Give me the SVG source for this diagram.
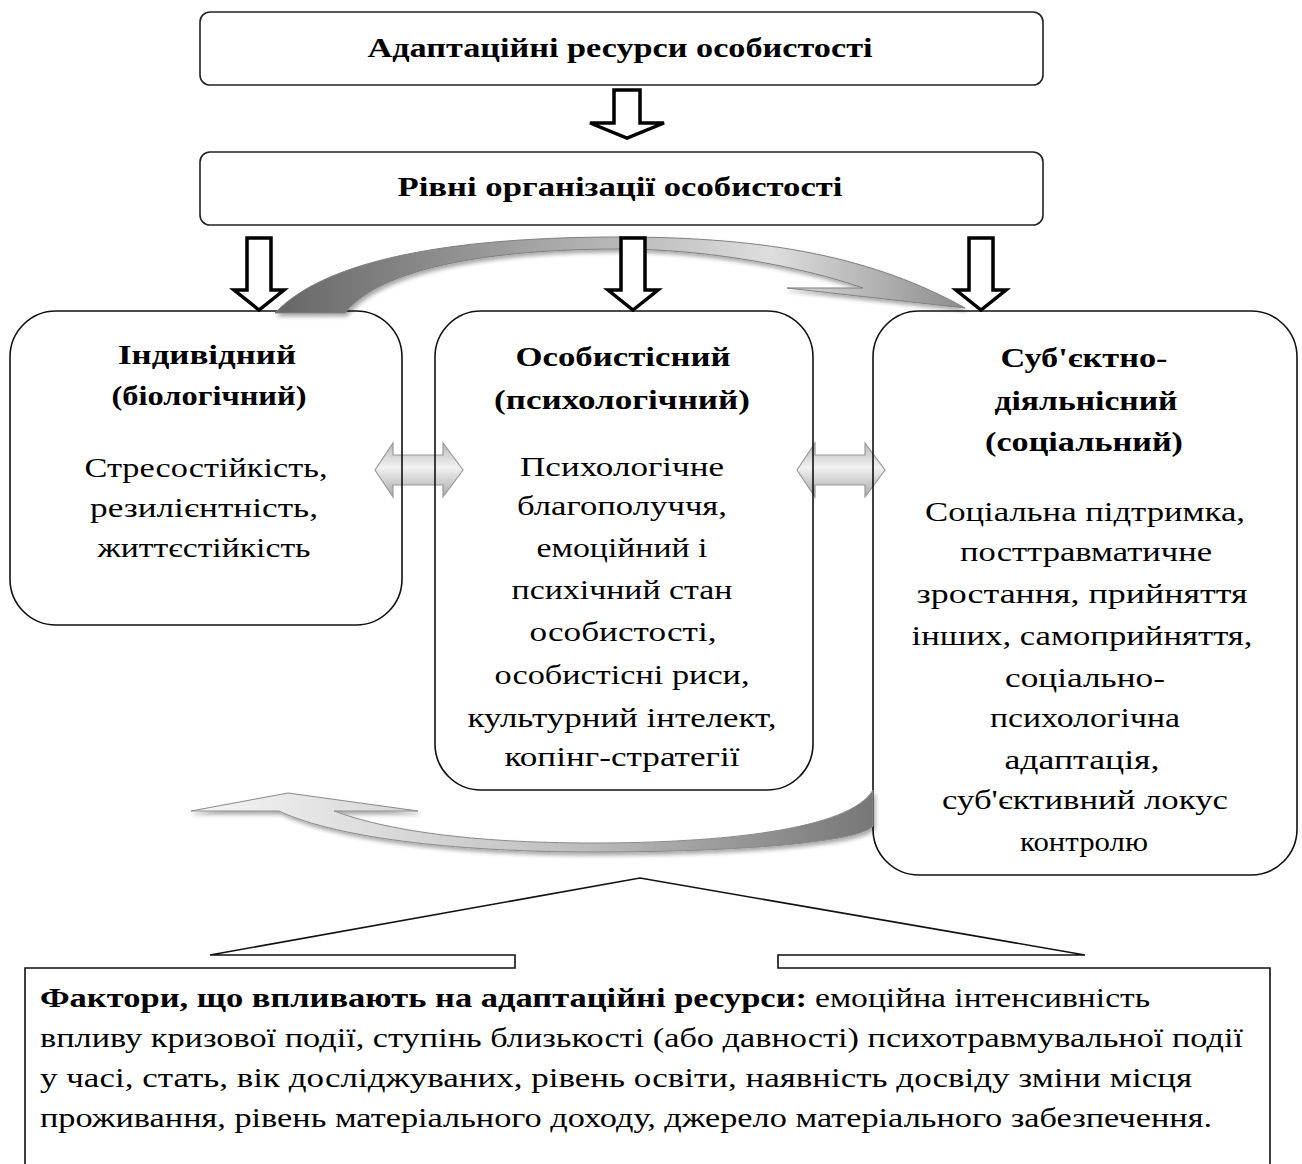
<svg xmlns="http://www.w3.org/2000/svg" width="1302" height="1164" viewBox="0 0 1302 1164">
<style>
.box{fill:#fff;stroke:#222;stroke-width:1.6}
.node{fill:none;stroke:#111;stroke-width:1.6}
.t{font-family:"Liberation Serif","Times New Roman",serif;font-size:28px;fill:#000}
.b{font-weight:bold}
.c{text-anchor:middle}
.blk{fill:#fff;stroke:#000;stroke-width:3.5;stroke-linejoin:miter}
.dbl{fill:url(#gV);stroke:#9a9a9a;stroke-width:1.2}
.call{fill:none;stroke:#111;stroke-width:1.6}
</style>
<defs>
<linearGradient id="gTop" x1="275" y1="0" x2="965" y2="0" gradientUnits="userSpaceOnUse">
<stop offset="0" stop-color="#666"/>
<stop offset="0.4" stop-color="#a8a8a8"/>
<stop offset="0.72" stop-color="#dedede"/>
<stop offset="1" stop-color="#8c8c8c"/>
</linearGradient>
<linearGradient id="gBot" x1="873" y1="0" x2="191" y2="0" gradientUnits="userSpaceOnUse">
<stop offset="0" stop-color="#777"/>
<stop offset="0.45" stop-color="#c0c0c0"/>
<stop offset="1" stop-color="#f6f6f6"/>
</linearGradient>
<linearGradient id="gV" x1="0" y1="0" x2="0" y2="1">
<stop offset="0" stop-color="#b8b8b8"/>
<stop offset="0.45" stop-color="#f2f2f2"/>
<stop offset="1" stop-color="#a8a8a8"/>
</linearGradient>
<filter id="sh" x="-10%" y="-20%" width="120%" height="150%">
<feGaussianBlur in="SourceAlpha" stdDeviation="2"/>
<feOffset dx="2" dy="3" result="o"/>
<feComponentTransfer><feFuncA type="linear" slope="0.35"/></feComponentTransfer>
<feMerge><feMergeNode/><feMergeNode in="SourceGraphic"/></feMerge>
</filter>
<path id="dn" d="M -12,0 H 12 V 52 H 25 L 0,72 L -25,52 H -12 Z"/>
</defs>
<rect width="1302" height="1164" fill="#fff"/>

<g id="title-resources">
<rect class="box" x="200" y="12" width="843" height="73" rx="10"/>
<text class="t b c" x="620" y="57" textLength="505" lengthAdjust="spacingAndGlyphs">Адаптаційні ресурси особистості</text>
</g>
<g id="title-levels">
<rect class="box" x="200" y="152" width="843" height="73" rx="10"/>
<text class="t b c" x="620" y="196" textLength="445" lengthAdjust="spacingAndGlyphs">Рівні організації особистості</text>
</g>

<g id="connectors">
<path class="dbl" d="M 375,470 L 393,443 V 455 H 443 V 443 L 463,470 L 443,497 V 485 H 393 V 497 Z"/>
<path class="dbl" d="M 797,470 L 815,443 V 455 H 865 V 443 L 885,470 L 865,497 V 485 H 815 V 497 Z"/>
</g>

<g id="node-individual">
<rect class="node" x="10" y="311" width="392" height="314" rx="46"/>
<text class="t b c" x="207" y="364" textLength="178" lengthAdjust="spacingAndGlyphs">Індивідний</text>
<text class="t b c" x="209" y="405" textLength="195" lengthAdjust="spacingAndGlyphs">(біологічний)</text>
<text class="t c" x="206" y="477" textLength="243" lengthAdjust="spacingAndGlyphs">Стресостійкість,</text>
<text class="t c" x="204" y="517" textLength="228" lengthAdjust="spacingAndGlyphs">резилієнтність,</text>
<text class="t c" x="204" y="557" textLength="213" lengthAdjust="spacingAndGlyphs">життєстійкість</text>
</g>

<g id="node-personal">
<rect class="node" x="435" y="311" width="378" height="479" rx="46"/>
<text class="t b c" x="623" y="366" textLength="215" lengthAdjust="spacingAndGlyphs">Особистісний</text>
<text class="t b c" x="622" y="409" textLength="256" lengthAdjust="spacingAndGlyphs">(психологічний)</text>
<text class="t c" x="622" y="476" textLength="204" lengthAdjust="spacingAndGlyphs">Психологічне</text>
<text class="t c" x="622" y="515" textLength="210" lengthAdjust="spacingAndGlyphs">благополуччя,</text>
<text class="t c" x="622" y="557" textLength="171" lengthAdjust="spacingAndGlyphs">емоційний і</text>
<text class="t c" x="622" y="599" textLength="221" lengthAdjust="spacingAndGlyphs">психічний стан</text>
<text class="t c" x="623" y="641" textLength="187" lengthAdjust="spacingAndGlyphs">особистості,</text>
<text class="t c" x="622" y="684" textLength="255" lengthAdjust="spacingAndGlyphs">особистісні риси,</text>
<text class="t c" x="622" y="727" textLength="309" lengthAdjust="spacingAndGlyphs">культурний інтелект,</text>
<text class="t c" x="622" y="766" textLength="235" lengthAdjust="spacingAndGlyphs">копінг-стратегії</text>
</g>

<g id="node-social">
<rect class="node" x="873" y="311" width="424" height="564" rx="46"/>
<text class="t b c" x="1084" y="367" textLength="167" lengthAdjust="spacingAndGlyphs">Суб'єктно-</text>
<text class="t b c" x="1086" y="410" textLength="183" lengthAdjust="spacingAndGlyphs">діяльнісний</text>
<text class="t b c" x="1084" y="451" textLength="198" lengthAdjust="spacingAndGlyphs">(соціальний)</text>
<text class="t c" x="1085" y="521" textLength="320" lengthAdjust="spacingAndGlyphs">Соціальна підтримка,</text>
<text class="t c" x="1086" y="561" textLength="252" lengthAdjust="spacingAndGlyphs">посттравматичне</text>
<text class="t c" x="1082" y="603" textLength="331" lengthAdjust="spacingAndGlyphs">зростання, прийняття</text>
<text class="t c" x="1082" y="645" textLength="341" lengthAdjust="spacingAndGlyphs">інших, самоприйняття,</text>
<text class="t c" x="1085" y="687" textLength="160" lengthAdjust="spacingAndGlyphs">соціально-</text>
<text class="t c" x="1085" y="727" textLength="190" lengthAdjust="spacingAndGlyphs">психологічна</text>
<text class="t c" x="1082" y="769" textLength="155" lengthAdjust="spacingAndGlyphs">адаптація,</text>
<text class="t c" x="1085" y="809" textLength="286" lengthAdjust="spacingAndGlyphs">суб'єктивний локус</text>
<text class="t c" x="1084" y="851" textLength="128" lengthAdjust="spacingAndGlyphs">контролю</text>
</g>

<g id="curved-arrows">
<path filter="url(#sh)" fill="url(#gTop)" stroke="#808080" stroke-width="1" d="M 275,313 C 330,255 470,237 620,237 C 770,237 875,258 965,308 L 787,288 L 863,288 C 800,266 705,249 620,249 C 490,249 380,268 345,313 Z"/>
<path filter="url(#sh)" fill="url(#gBot)" stroke="#8a8a8a" stroke-width="1" d="M 873,790 C 850,830 720,843 593,843 C 470,843 385,830 334,811 L 418,811 L 288,793 L 191,811 L 279,811 C 340,840 470,852 593,852 C 740,852 860,842 873,826 Z"/>
</g>

<g id="block-arrows">
<path class="blk" d="M 614,90 H 640 V 123 H 664 L 627,138 L 590,123 H 614 Z"/>
<use href="#dn" class="blk" transform="translate(259,238)"/>
<use href="#dn" class="blk" transform="translate(633,238)"/>
<use href="#dn" class="blk" transform="translate(981,238)"/>
</g>

<g id="factors-callout">
<path class="call" d="M 25,1170 V 968 H 515 V 955 H 210 L 640,878 L 1085,955 H 778 V 968 H 1270 V 1170"/>
<text class="t b" x="40" y="1007" textLength="767" lengthAdjust="spacingAndGlyphs">Фактори, що впливають на адаптаційні ресурси:</text>
<text class="t" x="815" y="1007" textLength="335" lengthAdjust="spacingAndGlyphs">емоційна інтенсивність</text>
<text class="t" x="40" y="1047" textLength="1203" lengthAdjust="spacingAndGlyphs">впливу кризової події, ступінь близькості (або давності) психотравмувальної події</text>
<text class="t" x="40" y="1087" textLength="1152" lengthAdjust="spacingAndGlyphs">у часі, стать, вік досліджуваних, рівень освіти, наявність досвіду зміни місця</text>
<text class="t" x="40" y="1127" textLength="1172" lengthAdjust="spacingAndGlyphs">проживання, рівень матеріального доходу, джерело матеріального забезпечення.</text>
</g>
</svg>
